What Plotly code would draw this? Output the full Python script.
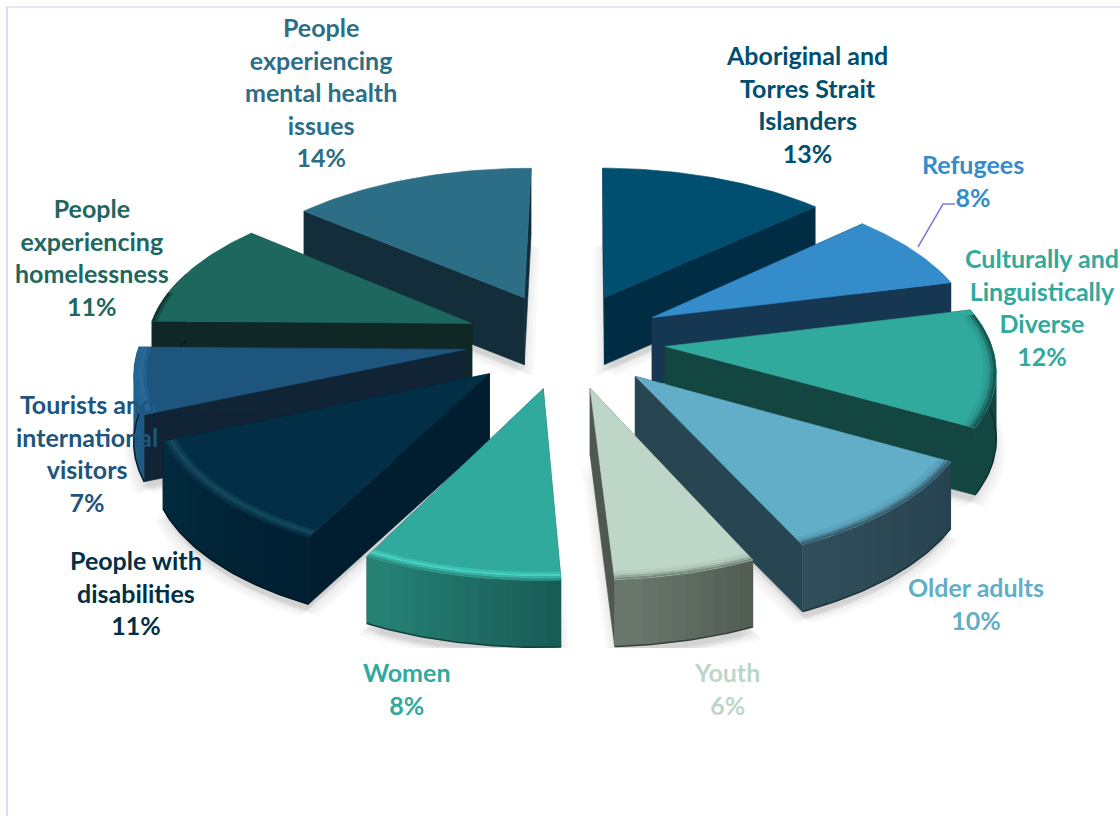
import numpy as np
import plotly.graph_objects as go

# ---------- data ----------
categories = ["Aboriginal and<br>Torres Strait<br>Islanders", "Refugees",
              "Culturally and<br>Linguistically<br>Diverse", "Older adults", "Youth", "Women",
              "People with<br>disabilities", "Tourists and<br>international<br>visitors",
              "People<br>experiencing<br>homelessness", "People<br>experiencing<br>mental health<br>issues"]
# shares; the printed labels are these rounded to whole percent
values = [13.0, 8.0, 12.0, 10.0, 6.0, 8.4, 11.0, 6.7, 10.9, 14.0]

top_colors = [(0, 79, 113), (52, 140, 203), (49, 170, 158), (98, 173, 200), (190, 214, 200),
              (49, 170, 158), (2, 47, 70), (30, 85, 125), (30, 103, 95), (45, 110, 135)]
face_colors = [(0, 45, 68), (22, 55, 82), (20, 70, 65), (40, 70, 82), (78, 88, 80),
               (25, 90, 85), (0, 30, 48), (16, 36, 54), (15, 40, 38), (20, 45, 58)]
wall_left = [(0, 45, 68), (22, 55, 82), (20, 70, 65), (48, 78, 90), (105, 120, 110),
             (38, 130, 117), (2, 42, 62), (35, 100, 145), (15, 40, 38), (20, 45, 58)]
wall_right = [(0, 45, 68), (22, 55, 82), (20, 70, 65), (38, 66, 78), (78, 88, 80),
              (24, 88, 83), (0, 30, 48), (28, 88, 130), (15, 40, 38), (20, 45, 58)]
rim_colors = [(0, 79, 113), (48, 130, 190), (42, 150, 140), (88, 158, 184), (175, 198, 185),
              (72, 210, 196), (22, 75, 95), (40, 105, 155), (30, 103, 95), (45, 110, 135)]
text_colors = top_colors

label_x = [807, 973, 1042, 976, 727, 407, 136, 87, 92, 321]
label_y = [104, 180, 307, 603, 688, 688, 592, 453, 257, 91.5]

# ---------- projection ----------
CX, CY, RX, RY, PERSP, EXPLODE, DEPTH, ROT = 565, 340, 325, 155, 0.1225, 0.31, 67, 0.5
ANG = np.cumsum([0] + values) * 3.6 + ROT


def project(theta_deg, r, mid_deg, z=0.0):
    th, mid = np.radians(theta_deg), np.radians(mid_deg)
    X = EXPLODE * np.sin(mid) + r * np.sin(th)
    Y = EXPLODE * np.cos(mid) + r * np.cos(th)
    p = 1 / (1 + PERSP * Y)
    return CX + RX * X * p, CY - RY * Y * p + z


def rgb(c):
    return "rgb(%d,%d,%d)" % tuple(int(round(v)) for v in c)


def lerp(a, b, t):
    return tuple(x + (y - x) * t for x, y in zip(a, b))


fig = go.Figure()


def poly(xs, ys, color, lw=0.6):
    line = dict(color=rgb(color), width=lw)
    fig.add_trace(go.Scatter(x=list(xs), y=list(ys), mode="lines", fill="toself",
                             fillcolor=rgb(color), line=line,
                             hoverinfo="skip", showlegend=False))


order = sorted(range(len(values)),
               key=lambda i: -np.cos(np.radians((ANG[i] + ANG[i + 1]) / 2)))

# soft floor shadow, kept inside the floor band
for dx, off in [(-9, 12), (9, 12), (-6, 10), (6, 10), (-3, 8), (3, 8), (-1, 6), (1, 6)]:
    for i in order:
        a0, a1 = ANG[i], ANG[i + 1]
        mid = (a0 + a1) / 2
        th = np.linspace(a0, a1, 40)
        ax, ay = project(th, 1.0, mid, DEPTH + off)
        tx, ty = project(mid, 0.0, mid, DEPTH + off)
        sx = np.concatenate([[tx], ax, [tx]]) + dx
        sy = np.clip(np.concatenate([[ty], ay, [ty]]), 228, 648)
        fig.add_trace(go.Scatter(x=sx, y=sy, mode="lines", fill="toself",
                                 fillcolor="rgba(110,110,110,0.045)",
                                 line=dict(width=0), hoverinfo="skip", showlegend=False))

# slices, back to front
for i in order:
    a0, a1 = ANG[i], ANG[i + 1]
    mid = (a0 + a1) / 2
    tip = project(mid, 0.0, mid)
    # cut faces
    for edge in (a0, a1):
        ex, ey = project(edge, 1.0, mid)
        poly([tip[0], ex, ex, tip[0], tip[0]],
             [tip[1], ey, ey + DEPTH, tip[1] + DEPTH, tip[1]], face_colors[i])
    # outer wall on the side facing the viewer, strip by strip
    w0, w1 = max(a0, 70), min(a1, 290)
    if w1 > w0:
        n = max(2, int((w1 - w0) / 2))
        edges = np.linspace(w0, w1, n + 1)
        flip = np.cos(np.radians(mid)) < 0
        for k in range(n):
            # each strip runs on under the next so no seam shows
            hi = edges[min(k + 2, n)] if not flip else edges[k + 1]
            lo = edges[k] if not flip else edges[max(k - 1, 0)]
            t = (k + 0.5) / n
            col = lerp(wall_right[i], wall_left[i], t) if flip else lerp(wall_left[i], wall_right[i], t)
            th = np.linspace(lo, hi, 5)
            x, y = project(th, 1.0, mid)
            poly(np.concatenate([x, x[::-1], x[:1]]),
                 np.concatenate([y, y[::-1] + DEPTH, y[:1]]), col, lw=0)
        th = np.linspace(w0, w1, 40)
        x, y = project(th, 1.0, mid, DEPTH)
        fig.add_trace(go.Scatter(x=x, y=y, mode="lines",
                                 line=dict(color=rgb(lerp(face_colors[i], (0, 0, 0), 0.3)), width=1.5),
                                 hoverinfo="skip", showlegend=False))
    # top face
    th = np.linspace(a0, a1, 40)
    ax, ay = project(th, 1.0, mid)
    poly(np.concatenate([[tip[0]], ax, [tip[0]]]), np.concatenate([[tip[1]], ay, [tip[1]]]),
         top_colors[i])
    # bevel along the front-facing part of the rim
    b0, b1 = max(a0, 78), min(a1, 282)
    if b1 > b0:
        bt = np.linspace(b0, b1, 40)
        bands = [(0.962, 0.972, lerp(top_colors[i], rim_colors[i], 0.5)),
                 (0.972, 0.982, rim_colors[i]),
                 (0.982, 0.991, lerp(rim_colors[i], wall_left[i], 0.4)),
                 (0.991, 1.0, lerp(rim_colors[i], wall_left[i], 0.8))]
        for r0, r1, c in bands:
            ox, oy = project(bt, r1, mid)
            ix, iy = project(bt, r0, mid)
            poly(np.concatenate([ox, ix[::-1], ox[:1]]),
                 np.concatenate([oy, iy[::-1], oy[:1]]), c, lw=0)

# labels
for name, v, x, y, c in zip(categories, values, label_x, label_y, text_colors):
    fig.add_annotation(x=x, y=y, text="<b>%s<br>%d%%</b>" % (name, round(v)), showarrow=False,
                       xanchor="center", yanchor="middle", align="center",
                       font=dict(family="Lato", size=25, color=rgb(c)))

fig.update_layout(
    width=1120, height=816, margin=dict(l=0, r=0, t=0, b=0),
    paper_bgcolor="white", plot_bgcolor="white", showlegend=False,
    xaxis=dict(range=[0, 1120], visible=False, fixedrange=True),
    yaxis=dict(range=[816, 0], visible=False, fixedrange=True),
    shapes=[
        dict(type="line", x0=7, x1=1120, y0=7, y1=7, line=dict(color="rgb(215,210,240)", width=1)),
        dict(type="line", x0=7, x1=7, y0=7, y1=816, line=dict(color="rgb(208,205,240)", width=1.5)),
        dict(type="path", path="M 918 247 L 943 204 L 955 204",
             line=dict(color="rgb(135,120,215)", width=1.5)),
    ],
)
fig.write_html("out.html", post_script="document.body.style.margin='0';",
               config={"displayModeBar": False})
